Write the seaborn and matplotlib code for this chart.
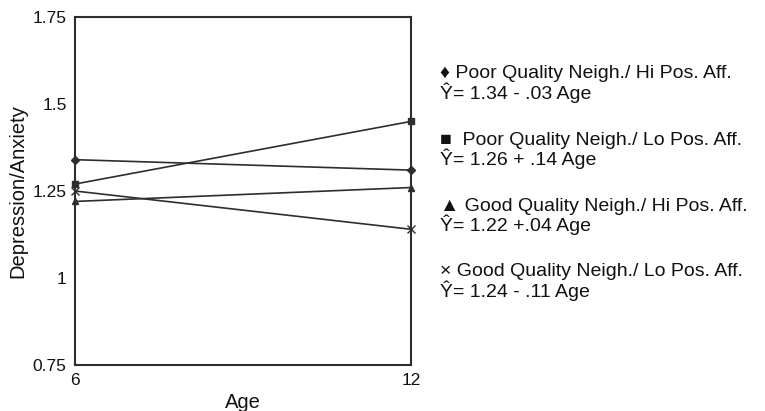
import matplotlib
matplotlib.use("Agg")
import matplotlib.pyplot as plt
import seaborn as sns
import pandas as pd

# Predicted depression/anxiety at ages 6 and 12 for each group
ages = [6, 12]
groups = [
    "Poor Quality Neigh./ Hi Pos. Aff.",
    "Poor Quality Neigh./ Lo Pos. Aff.",
    "Good Quality Neigh./ Hi Pos. Aff.",
    "Good Quality Neigh./ Lo Pos. Aff.",
]
poor_hi = [1.34, 1.31]
poor_lo = [1.27, 1.45]
good_hi = [1.22, 1.26]
good_lo = [1.25, 1.14]
equations = [
    "Ŷ= 1.34 - .03 Age",
    "Ŷ= 1.26 + .14 Age",
    "Ŷ= 1.22 +.04 Age",
    "Ŷ= 1.24 - .11 Age",
]
glyphs = ["♦ ", "■  ", "▲ ", "× "]
markers = ["D", "s", "^", "x"]
y_ticks = [0.75, 1, 1.25, 1.5, 1.75]
y_ticklabels = ["0.75", "1", "1.25", "1.5", "1.75"]

rows = []
for g, vals in zip(groups, [poor_hi, poor_lo, good_hi, good_lo]):
    for a, v in zip(ages, vals):
        rows.append({"Age": a, "Score": v, "Group": g})
df = pd.DataFrame(rows)

sns.set_theme(style="white")
plt.rcParams["font.family"] = ["Liberation Sans", "DejaVu Sans"]

ink = "#2e2e2e"
text_ink = "#111111"
fig = plt.figure(figsize=(7.65, 4.11), dpi=100)
ax = fig.add_axes([75 / 765, 1 - 365 / 411, (411 - 75) / 765, (365 - 17) / 411])

marker_sizes = {"D": 4.5, "s": 5, "^": 5, "x": 6}
for g, m in zip(groups, markers):
    sns.lineplot(
        data=df[df["Group"] == g], x="Age", y="Score",
        color=ink, marker=m, markersize=marker_sizes[m],
        linewidth=1.2, markeredgecolor=ink, markeredgewidth=1.0,
        ax=ax, clip_on=False,
    )

ax.set_xlim(6, 12)
ax.set_ylim(0.75, 1.75)
ax.set_xticks(ages)
ax.set_xticklabels([str(a) for a in ages])
ax.set_yticks(y_ticks)
ax.set_yticklabels(y_ticklabels)
ax.tick_params(axis="both", direction="out", length=5, width=1.2, color=ink,
               labelsize=12.5, labelcolor=text_ink, pad=1)
ax.tick_params(axis="x", pad=1)
for s in ax.spines.values():
    s.set_visible(True)
    s.set_color(ink)
    s.set_linewidth(1.5)
ax.set_xlabel("Age", fontsize=14.5, color=text_ink, labelpad=3)
ax.set_ylabel("Depression/Anxiety", fontsize=14.5, color=text_ink, labelpad=4)

# Group key with fitted equations
top = 74
step = 66
for i, (glyph, name, eq) in enumerate(zip(glyphs, groups, equations)):
    y = top + i * step
    fig.text(440 / 765, 1 - y / 411, f"{glyph}{name}", fontsize=14,
             color=text_ink, va="center", ha="left")
    fig.text(440 / 765, 1 - (y + 19) / 411, eq, fontsize=14,
             color=text_ink, va="center", ha="left")

fig.savefig("out.png", dpi=100)
